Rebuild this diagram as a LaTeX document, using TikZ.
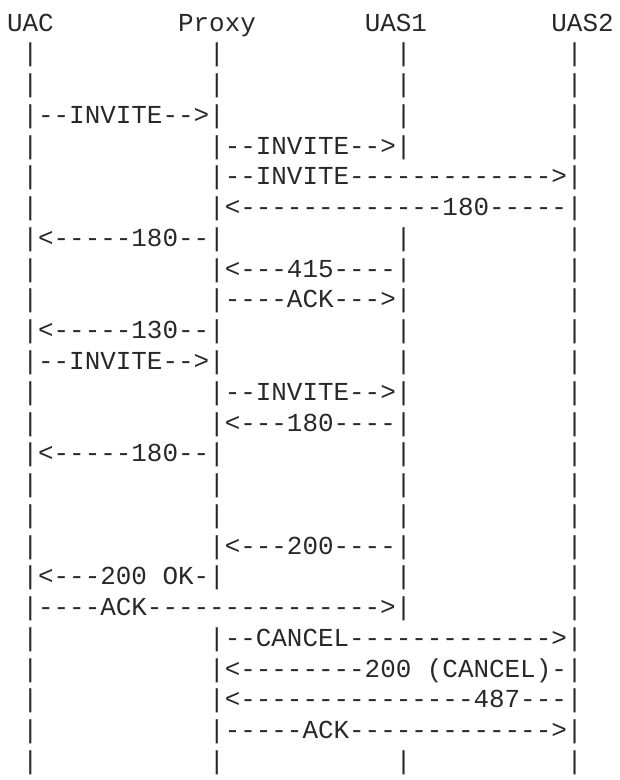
\documentclass[tikz,border=0pt]{standalone}
\usepackage{fontspec}
\setmonofont{Liberation Mono}
\definecolor{ink}{RGB}{40,40,40}
\newcommand\SPa{~~~~~~~~~~~}
\newcommand\SPb{~~~~~~~~~~}
\begin{document}
\begin{tikzpicture}[x=1pt,y=1pt,
  asciiline/.style={anchor=base west, inner sep=0pt, outer sep=0pt, text=ink,
    font=\ttfamily\fontsize{25.92}{30.77}\selectfont}]
\useasboundingbox (0,0) rectangle (620,-780);
\def\pitch{30.77}
\node[asciiline] (l0)  at (7,-31-0*\pitch)  {UAC~~~~~~~~Proxy~~~~~~~UAS1~~~~~~~~UAS2};
\node[asciiline] (l1)  at (7,-31-1*\pitch)  {~|\SPa|\SPa|\SPb|};
\node[asciiline] (l2)  at (7,-31-2*\pitch)  {~|\SPa|\SPa|\SPb|};
\node[asciiline] (l3)  at (7,-31-3*\pitch)  {~|--INVITE-->|\SPa|\SPb|};
\node[asciiline] (l4)  at (7,-31-4*\pitch)  {~|\SPa|--INVITE-->|\SPb|};
\node[asciiline] (l5)  at (7,-31-5*\pitch)  {~|\SPa|--INVITE------------->|};
\node[asciiline] (l6)  at (7,-31-6*\pitch)  {~|\SPa|<-------------180-----|};
\node[asciiline] (l7)  at (7,-31-7*\pitch)  {~|<-----180--|\SPa|\SPb|};
\node[asciiline] (l8)  at (7,-31-8*\pitch)  {~|\SPa|<---415----|\SPb|};
\node[asciiline] (l9)  at (7,-31-9*\pitch)  {~|\SPa|----ACK--->|\SPb|};
\node[asciiline] (l10) at (7,-31-10*\pitch) {~|<-----130--|\SPa|\SPb|};
\node[asciiline] (l11) at (7,-31-11*\pitch) {~|--INVITE-->|\SPa|\SPb|};
\node[asciiline] (l12) at (7,-31-12*\pitch) {~|\SPa|--INVITE-->|\SPb|};
\node[asciiline] (l13) at (7,-31-13*\pitch) {~|\SPa|<---180----|\SPb|};
\node[asciiline] (l14) at (7,-31-14*\pitch) {~|<-----180--|\SPa|\SPb|};
\node[asciiline] (l15) at (7,-31-15*\pitch) {~|\SPa|\SPa|\SPb|};
\node[asciiline] (l16) at (7,-31-16*\pitch) {~|\SPa|\SPa|\SPb|};
\node[asciiline] (l17) at (7,-31-17*\pitch) {~|\SPa|<---200----|\SPb|};
\node[asciiline] (l18) at (7,-31-18*\pitch) {~|<---200~OK-|\SPa|\SPb|};
\node[asciiline] (l19) at (7,-31-19*\pitch) {~|----ACK--------------->|\SPb|};
\node[asciiline] (l20) at (7,-31-20*\pitch) {~|\SPa|--CANCEL------------->|};
\node[asciiline] (l21) at (7,-31-21*\pitch) {~|\SPa|<--------200~(CANCEL)-|};
\node[asciiline] (l22) at (7,-31-22*\pitch) {~|\SPa|<---------------487---|};
\node[asciiline] (l23) at (7,-31-23*\pitch) {~|\SPa|-----ACK------------->|};
\node[asciiline] (l24) at (7,-31-24*\pitch) {~|\SPa|\SPa|\SPb|};
\end{tikzpicture}
\end{document}
